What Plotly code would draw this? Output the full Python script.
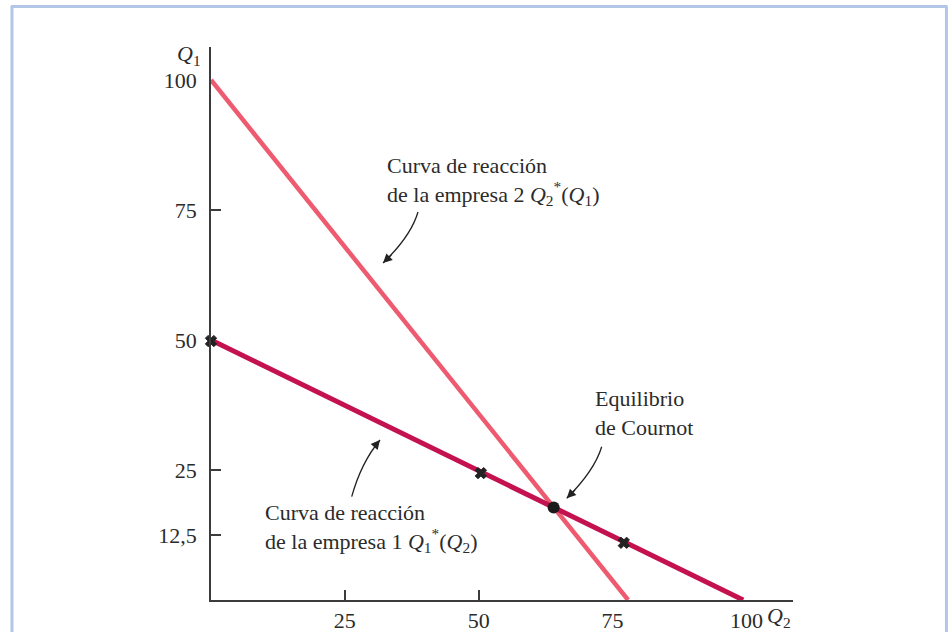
import plotly.graph_objects as go

# ---- data ----
firm1_q2 = [0, 99.4]          # reaction curve of firm 1: Q1*(Q2)
firm1_q1 = [50, 0]
firm2_q2 = [0, 77.9]          # reaction curve of firm 2: Q2*(Q1)
firm2_q1 = [100, 0]
cross_q2 = [0, 50.4, 77.1]    # x markers on firm 1's curve
cross_q1 = [49.8, 24.4, 11.0]
eq_q2 = [64.0]                # Cournot equilibrium
eq_q1 = [17.8]

y_tickvals = [12.5, 25, 50, 75, 100]
y_ticktext = ["12,5", "25", "50", "75", "100"]
x_tickvals = [25, 50, 75, 100]
x_ticktext = ["25", "50", "75", "100"]
y_tickmarks = [12.5, 25, 75]
x_tickmarks = [25, 50]

FONT = "Liberation Serif"
TXT = "#2b2b2b"
AX = "#3c3c3c"
PINK = "#EE5A70"
CRIMSON = "#C3124F"

fig = go.Figure()
fig.add_trace(go.Scatter(x=firm2_q2, y=firm2_q1, mode="lines",
                         line=dict(color=PINK, width=4.5), cliponaxis=False,
                         hoverinfo="skip"))
fig.add_trace(go.Scatter(x=firm1_q2, y=firm1_q1, mode="lines",
                         line=dict(color=CRIMSON, width=5), cliponaxis=False,
                         hoverinfo="skip"))
fig.add_trace(go.Scatter(x=cross_q2, y=cross_q1, mode="markers",
                         marker=dict(symbol="x", size=10, color="#222222",
                                     line=dict(width=1, color="#222222")),
                         cliponaxis=False, hoverinfo="skip"))
fig.add_trace(go.Scatter(x=eq_q2, y=eq_q1, mode="markers",
                         marker=dict(symbol="circle", size=12, color="#1a1a1a"),
                         cliponaxis=False, hoverinfo="skip"))
# invisible trace to carry the overlay axes used for tick marks
fig.add_trace(go.Scatter(x=[0], y=[0], xaxis="x2", yaxis="y2", mode="markers",
                         marker=dict(opacity=0), hoverinfo="skip"))

XR = [0, 108.7]
YR = [0, 106.35]

fig.update_layout(
    width=949, height=632,
    margin=dict(l=211, r=156, t=47, b=32, autoexpand=False),
    paper_bgcolor="white", plot_bgcolor="white",
    showlegend=False,
    font=dict(family=FONT, size=22, color=TXT),
    xaxis=dict(range=XR, showgrid=False, zeroline=False, showline=True,
               linecolor=AX, linewidth=1.5, ticks="", automargin=False,
               tickmode="array", tickvals=x_tickvals, ticktext=x_ticktext,
               ticklabelstandoff=0,
               tickfont=dict(family=FONT, size=22, color=TXT)),
    yaxis=dict(range=YR, showgrid=False, zeroline=False, showline=True,
               linecolor=AX, linewidth=1.5, ticks="", automargin=False,
               tickmode="array", tickvals=y_tickvals, ticktext=y_ticktext,
               ticklabelstandoff=8,
               tickfont=dict(family=FONT, size=22, color=TXT)),
    xaxis2=dict(range=XR, overlaying="x", anchor="y2", showgrid=False,
                zeroline=False, showline=False, ticks="inside", ticklen=10,
                tickwidth=1.5, tickcolor=AX, tickmode="array", automargin=False,
                tickvals=x_tickmarks, showticklabels=False),
    yaxis2=dict(range=YR, overlaying="y", anchor="x2", showgrid=False,
                zeroline=False, showline=False, ticks="inside", ticklen=10,
                tickwidth=1.5, tickcolor=AX, tickmode="array", automargin=False,
                tickvals=y_tickmarks, showticklabels=False),
)

# frame border around the figure
BORDER = "#B4C6E7"
fig.add_shape(type="line", xref="paper", yref="paper", x0=-0.342, x1=-0.342,
              y0=1.0732, y1=-0.1, line=dict(color=BORDER, width=3))
fig.add_shape(type="line", xref="paper", yref="paper", x0=-0.344, x1=1.2654,
              y0=1.0732, y1=1.0732, line=dict(color=BORDER, width=3))
fig.add_shape(type="line", xref="paper", yref="paper", x0=1.2637, x1=1.2637,
              y0=1.0732, y1=-0.1, line=dict(color=BORDER, width=3))

# axis titles
fig.add_annotation(xref="paper", yref="paper", x=-0.014, y=0.986,
                   xanchor="right", yanchor="middle", showarrow=False,
                   text="<i>Q</i><sub>1</sub>", font=dict(size=22))
fig.add_annotation(xref="paper", yref="paper", x=1.0, y=-0.031,
                   xanchor="right", yanchor="middle", showarrow=False,
                   text="<i>Q</i><sub>2</sub>", font=dict(size=22))

# labels
fig.add_annotation(x=32.5, y=80.6, xanchor="left", yanchor="middle",
                   align="left", showarrow=False,
                   text="Curva de reacción<br>de la empresa 2 <i>Q</i><sub>2</sub><sup>*</sup>(<i>Q</i><sub>1</sub>)")
fig.add_annotation(x=9.65, y=13.85, xanchor="left", yanchor="middle",
                   align="left", showarrow=False,
                   text="Curva de reacción<br>de la empresa 1 <i>Q</i><sub>1</sub><sup>*</sup>(<i>Q</i><sub>2</sub>)")
fig.add_annotation(x=71.4, y=35.96, xanchor="left", yanchor="middle",
                   align="left", showarrow=False,
                   text="Equilibrio<br>de Cournot")

# curved arrows: (start, control, end)
arrows = [
    ((38.66, 74.62), (37.36, 70.0), (32.13, 64.81)),
    ((26.28, 19.87), (28.05, 26.44), (31.56, 30.77)),
    ((72.97, 29.48), (71.63, 24.90), (66.44, 19.56)),
]
for (s, c, e) in arrows:
    fig.add_shape(type="path", xref="x", yref="y",
                  path=f"M {s[0]},{s[1]} Q {c[0]},{c[1]} {e[0]},{e[1]}",
                  line=dict(color="#222222", width=1.3))
    tx = e[0] + 0.35 * (c[0] - e[0])
    ty = e[1] + 0.35 * (c[1] - e[1])
    fig.add_annotation(x=e[0], y=e[1], ax=tx, ay=ty, axref="x", ayref="y",
                       xref="x", yref="y", text="", showarrow=True,
                       arrowhead=2, arrowsize=1.4, arrowwidth=1.3,
                       arrowcolor="#222222", standoff=0)

fig.write_html(
    "out.html",
    config={"displayModeBar": False},
    post_script="document.body.style.margin='0';"
                "document.body.style.overflow='hidden';",
)
